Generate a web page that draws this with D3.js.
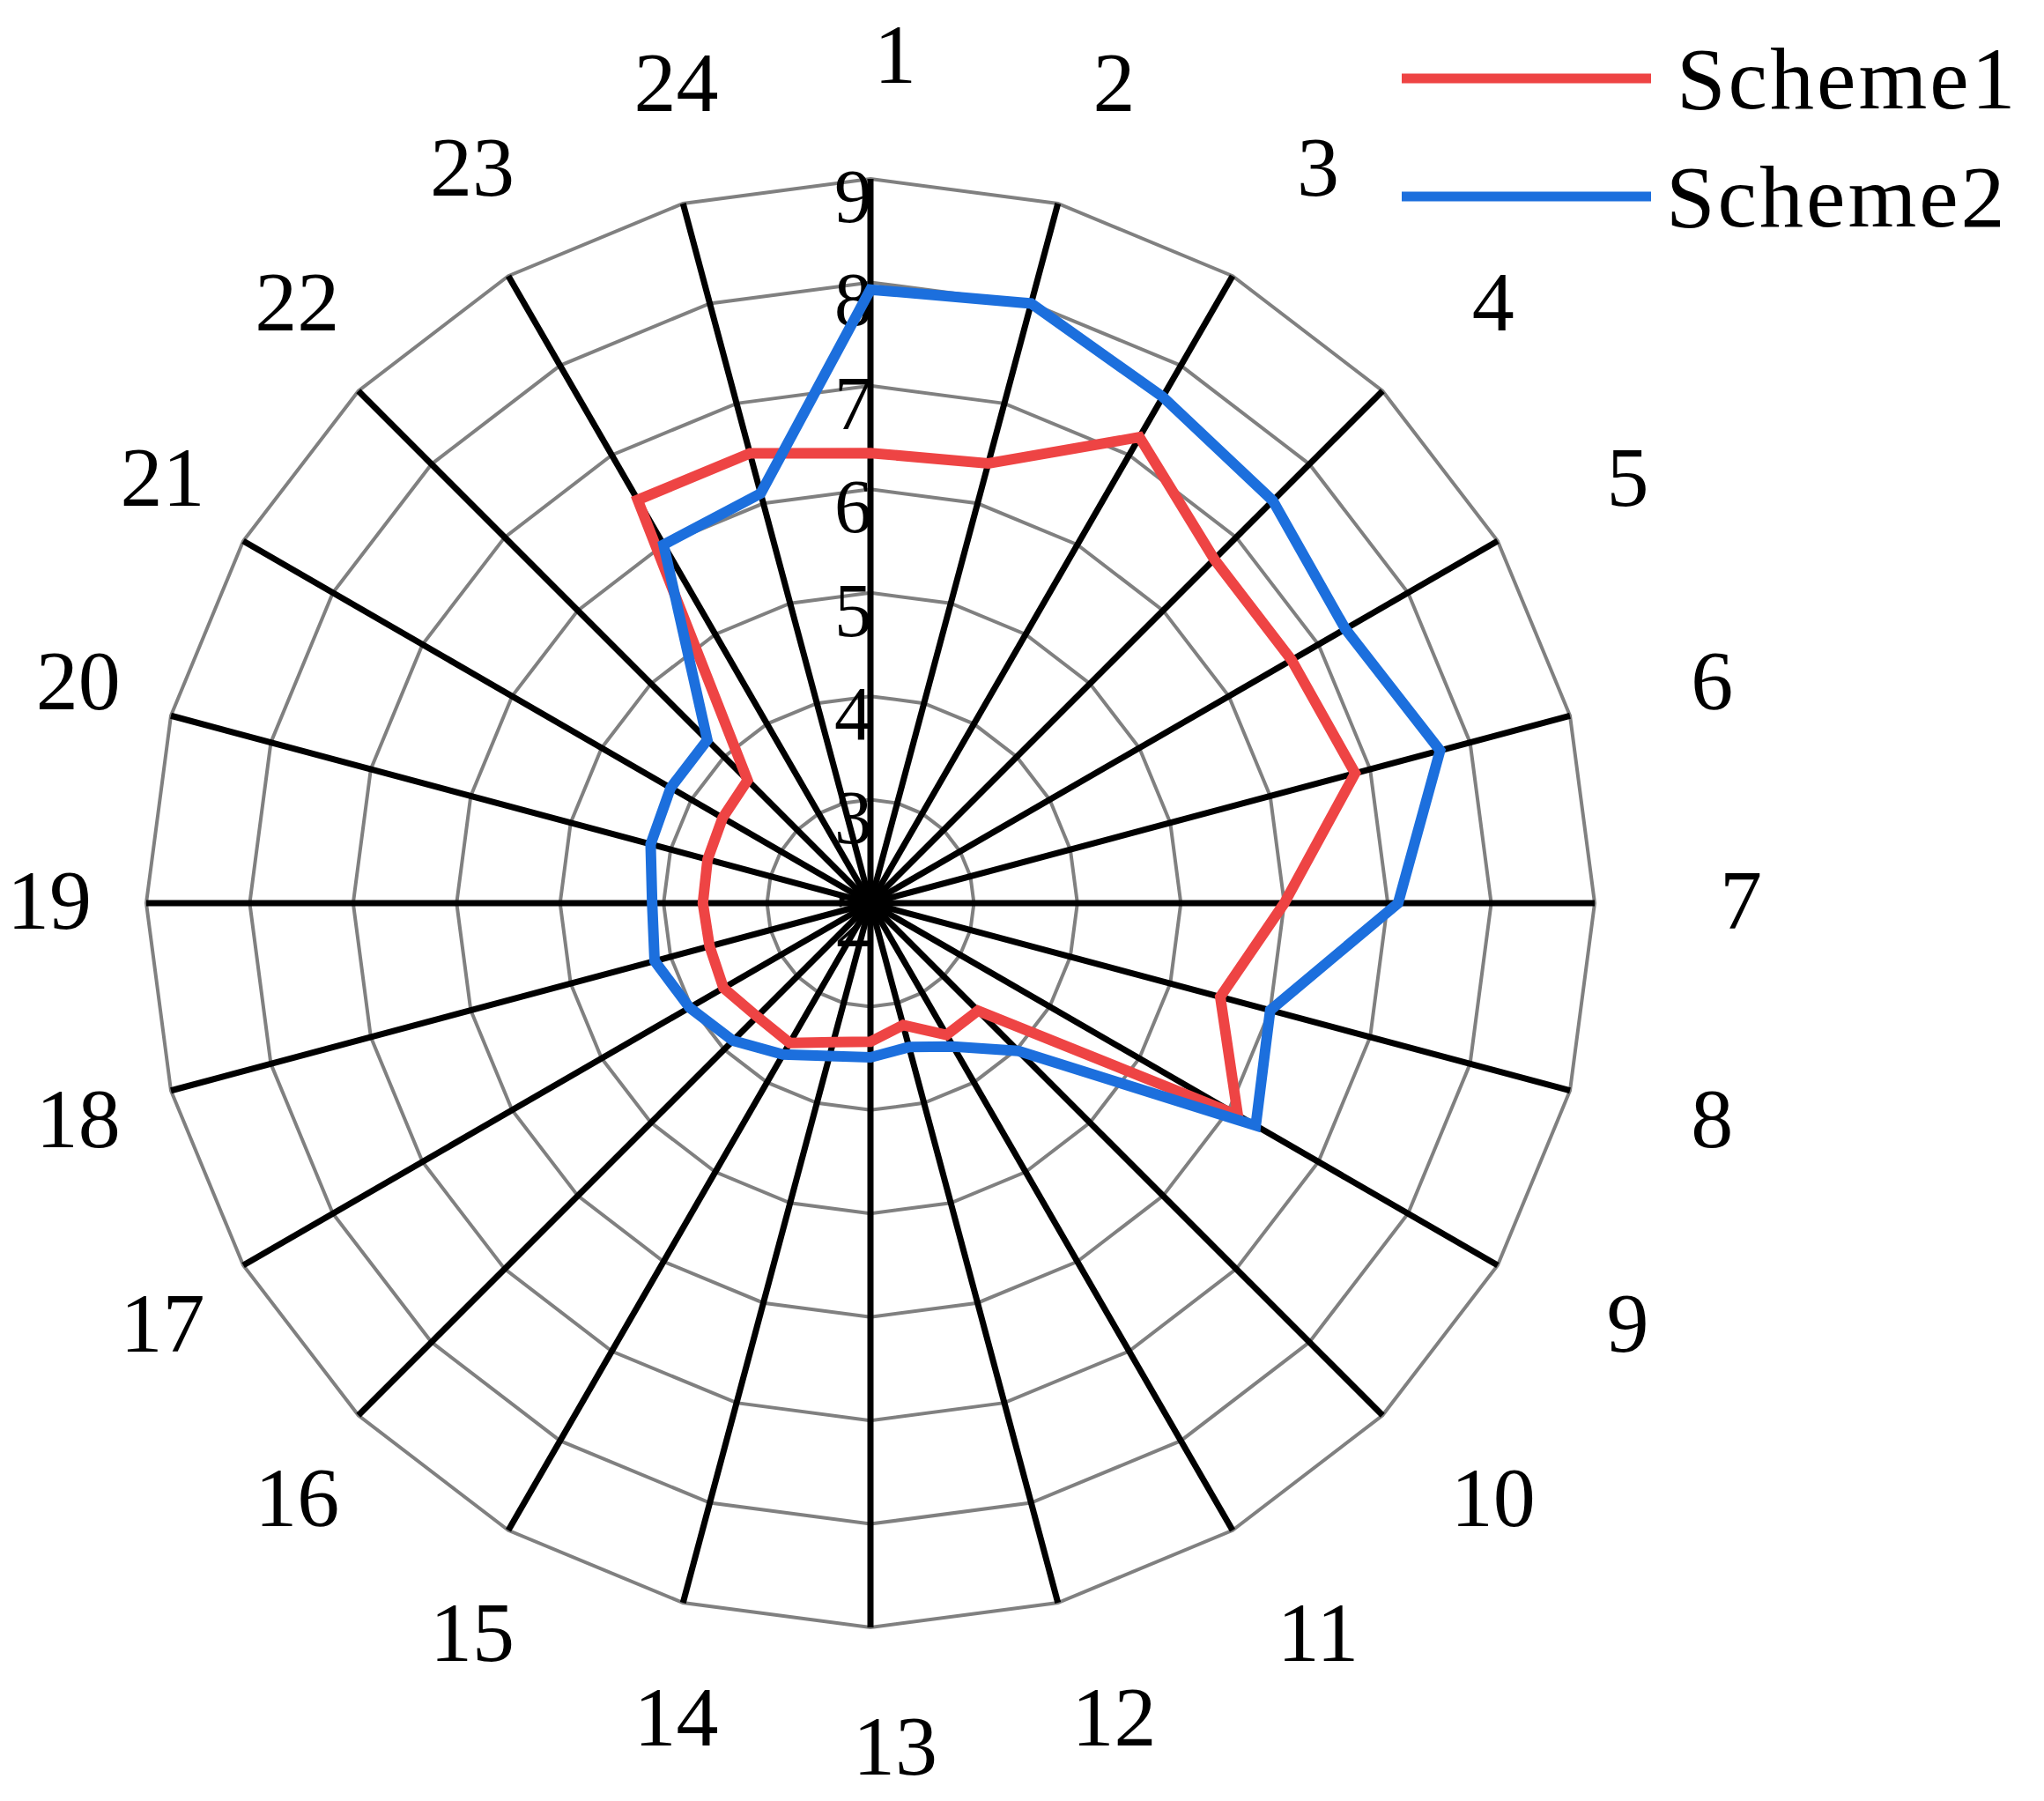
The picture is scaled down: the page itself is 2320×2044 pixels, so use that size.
<!DOCTYPE html>
<html>
<head>
<meta charset="utf-8">
<script src="https://cdn.jsdelivr.net/npm/d3@7/dist/d3.min.js"></script>
<style>
  body { margin: 0; background: #fff; }
  text { font-family: "Liberation Serif", "DejaVu Serif", serif; fill: #000; }
</style>
</head>
<body>
<svg id="chart" width="2320" height="2044"></svg>
<script>
var categories = d3.range(1, 25).map(String);
var ringTicks = [2, 3, 4, 5, 6, 7, 8, 9];
var scheme1 = [6.35, 6.4, 7.2, 6.7, 6.7, 6.85, 6.0, 5.5, 6.1, 3.47, 3.47, 3.22,
               3.34, 3.39, 3.56, 3.55, 3.64, 3.61, 3.62, 3.63, 3.65, 3.68, 6.5, 6.5];
var scheme2 = [7.93, 8.0, 7.65, 7.5, 7.3, 7.7, 7.1, 6.0, 6.3, 4.02, 3.6, 3.44,
               3.49, 3.53, 3.69, 3.88, 4.02, 4.16, 4.11, 4.2, 4.23, 4.23, 6.0, 6.1];
var series = [
  { name: "Scheme1", values: scheme1, color: "#EE4444" },
  { name: "Scheme2", values: scheme2, color: "#1C6FDD" }
];

var svg = d3.select("#chart");
var cx = 988, cy = 1025, R = 822;

var r = d3.scaleLinear().domain([2, 9]).range([0, R]);
var angle = d3.scaleLinear().domain([0, categories.length]).range([0, 2 * Math.PI]);

function pt(i, v) {
  var a = angle(i);
  return [cx + r(v) * Math.sin(a), cy - r(v) * Math.cos(a)];
}

var g = svg.append("g");

// ring polygons
ringTicks.slice(1).forEach(function(t) {
  var pts = categories.map(function(c, i) { return pt(i, t); });
  g.append("polygon")
    .attr("points", pts.map(function(p) { return p.join(","); }).join(" "))
    .attr("fill", "none")
    .attr("stroke", "#808080")
    .attr("stroke-width", 4);
});

// spokes
categories.forEach(function(c, i) {
  var p = pt(i, 9);
  g.append("line")
    .attr("x1", cx).attr("y1", cy)
    .attr("x2", p[0]).attr("y2", p[1])
    .attr("stroke", "#000")
    .attr("stroke-width", 7);
});

// radial tick labels
ringTicks.forEach(function(t) {
  g.append("text")
    .attr("x", cx + 2)
    .attr("y", cy - r(t) + 20)
    .attr("text-anchor", "end")
    .attr("dominant-baseline", "central")
    .attr("font-size", 86)
    .text(t);
});

// category labels
categories.forEach(function(c, i) {
  var a = angle(i), lr = 960;
  g.append("text")
    .attr("x", cx + lr * Math.sin(a) + 28)
    .attr("y", cy - lr * Math.cos(a) - 4)
    .attr("text-anchor", "middle")
    .attr("dominant-baseline", "central")
    .attr("font-size", 96)
    .text(c);
});

// series lines
var line = d3.line().curve(d3.curveLinearClosed);
series.forEach(function(s) {
  g.append("path")
    .attr("d", line(s.values.map(function(v, i) { return pt(i, v); })))
    .attr("fill", "none")
    .attr("stroke", s.color)
    .attr("stroke-width", 12)
    .attr("stroke-linejoin", "miter");
});

// legend
var legend = svg.append("g");
series.forEach(function(s, i) {
  var y = 89 + i * 134;
  legend.append("line")
    .attr("x1", 1591).attr("x2", 1874)
    .attr("y1", y).attr("y2", y)
    .attr("stroke", s.color)
    .attr("stroke-width", 11);
  legend.append("text")
    .attr("x", 1903 - i * 12)
    .attr("y", y)
    .attr("dominant-baseline", "central")
    .attr("font-size", 100)
    .attr("letter-spacing", 3)
    .text(s.name);
});
</script>
</body>
</html>
